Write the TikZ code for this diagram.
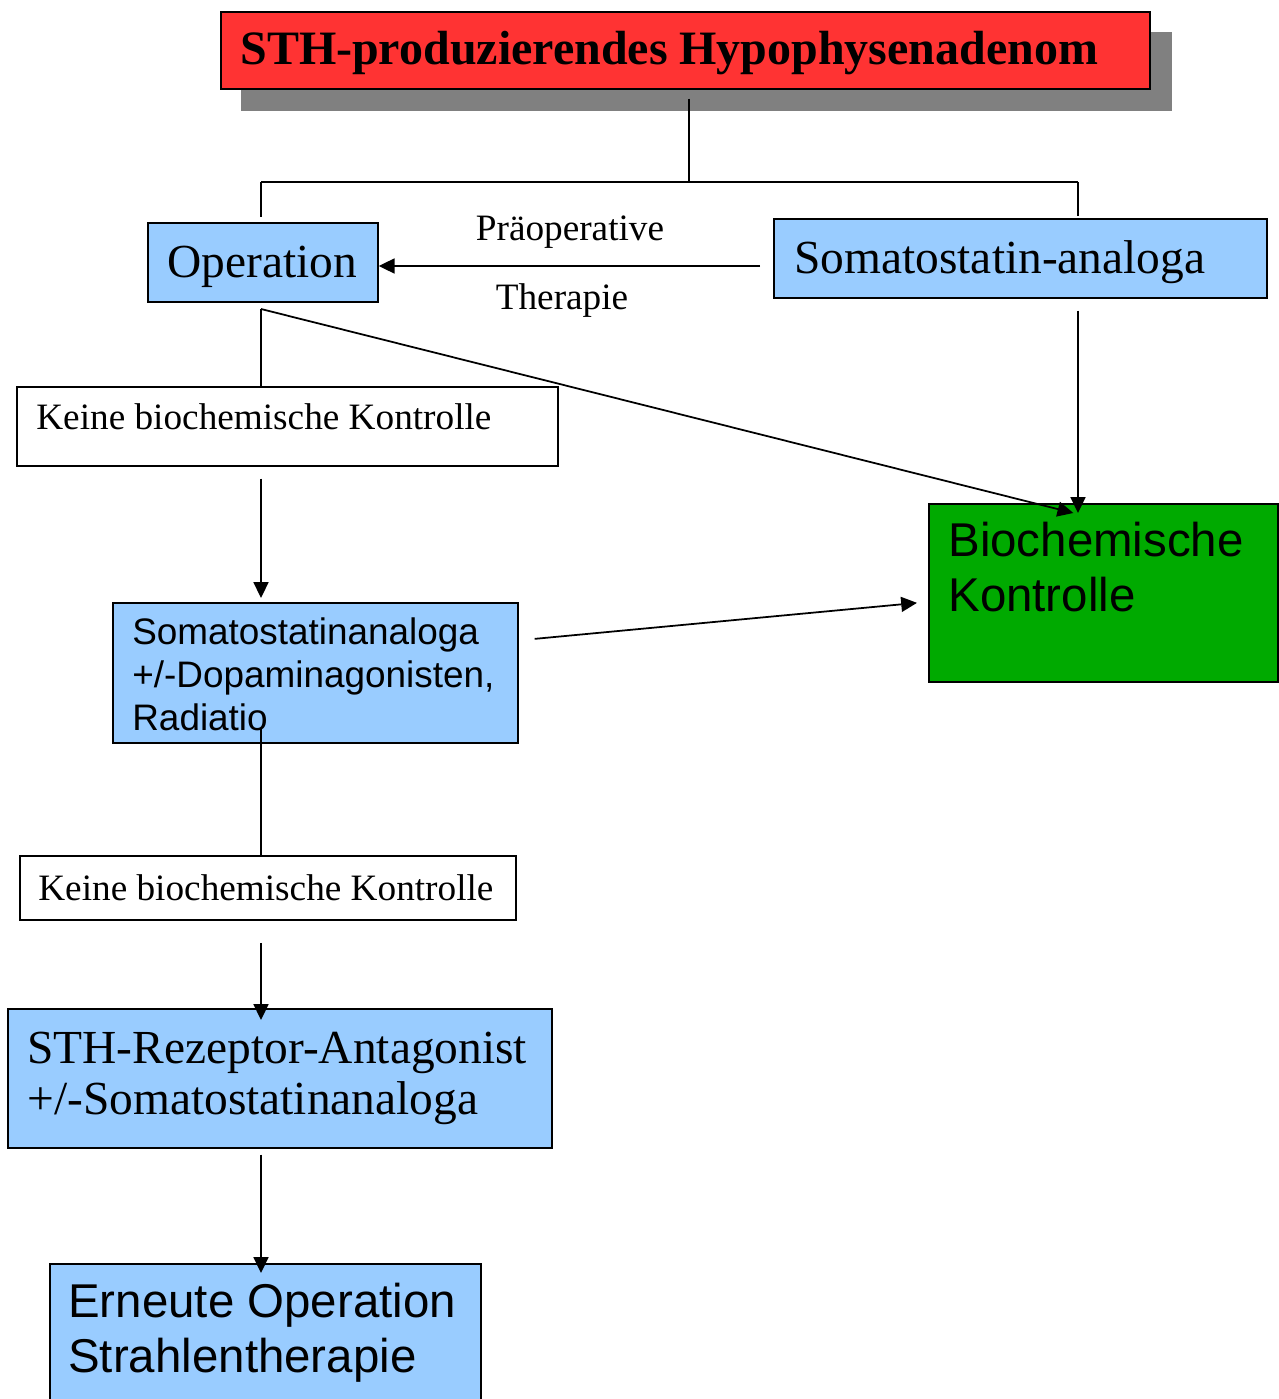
\documentclass[tikz,border=0pt]{standalone}
\usepackage{fontspec}
\setmainfont{Liberation Serif}
\setsansfont{Liberation Sans}
\definecolor{adenred}{RGB}{255,51,51}
\definecolor{shadowgray}{RGB}{128,128,128}
\definecolor{boxblue}{RGB}{153,204,255}
\definecolor{kontrgreen}{RGB}{0,170,0}
\usetikzlibrary{arrows.meta,calc}
\newcommand{\fTitle}{\fontsize{27.3}{30}\selectfont\bfseries}
\newcommand{\fSerifL}{\fontsize{27}{29}\selectfont}
\newcommand{\fSerifS}{\fontsize{21.2}{24}\selectfont}
\newcommand{\fSansS}{\sffamily\fontsize{21}{24.2}\selectfont}
\newcommand{\fSansL}{\sffamily\fontsize{27}{31.3}\selectfont}
\tikzstyle{line} = [draw, line width=1pt, -{Triangle[length=9pt,width=8.5pt]}]
\tikzstyle{link} = [draw, line width=1pt]
\tikzset{
  box/.style={draw, line width=1pt, anchor=north west, inner sep=0pt},
  bluebox/.style={box, fill=boxblue},
  txt/.style={anchor=base west, inner sep=0pt, align=left}
}

\begin{document}
\begin{tikzpicture}[x=0.02cm, y=-0.02cm]
  \useasboundingbox (0,0) rectangle (1278,1399);
  % boxes
  \fill[shadowgray] (241,32) rectangle (1172,111);
  \node[box, fill=adenred, minimum width=18.58cm, minimum height=1.54cm] (top) at (220,11) {};
  \node[bluebox, minimum width=4.6cm, minimum height=1.58cm] (op) at (147,222) {};
  \node[bluebox, minimum width=9.86cm, minimum height=1.58cm] (sa) at (773,218) {};
  \node[box, fill=white, minimum width=10.82cm, minimum height=1.58cm] (k1) at (16,386) {};
  \node[bluebox, minimum width=8.1cm, minimum height=2.8cm] (saa) at (112,602) {};
  \node[box, fill=kontrgreen, minimum width=6.98cm, minimum height=3.56cm] (bio) at (928,503) {};
  \node[box, fill=white, minimum width=9.92cm, minimum height=1.28cm] (k2) at (19,855) {};
  \node[bluebox, minimum width=10.88cm, minimum height=2.78cm] (sth) at (7,1008) {};
  \node[bluebox, minimum width=8.62cm, minimum height=3.3cm] (ern) at (49,1263) {};
  % texts (multi-line ones sit on their last baseline)
  \node[txt, font=\fTitle] (toptext) at (240,65) {STH-produzierendes Hypophysenadenom};
  \node[txt, font=\fSerifL] (optext) at (167,277) {Operation};
  \node[txt, font=\fSerifL] (satext) at (794,273) {Somatostatin-analoga};
  \node[txt, font=\fSerifS] (k1text) at (36,429) {Keine biochemische Kontrolle};
  \node[txt, font=\fSansS] (saatext) at (132,730) {Somatostatinanaloga\\+/-Dopaminagonisten,\\Radiatio};
  \node[txt, font=\fSansL] (biotext) at (948,611) {Biochemische\\Kontrolle};
  \node[txt, font=\fSerifS] (k2text) at (38,900) {Keine biochemische Kontrolle};
  \node[txt, font=\fSerifL] (sthtext) at (27,1114) {STH-Rezeptor-Antagonist\\+/-Somatostatinanaloga};
  \node[txt, font=\fSansL] (erntext) at (68,1372) {Erneute Operation\\Strahlentherapie};
  \node[anchor=base, inner sep=0pt, font=\fSerifS] (praeop) at (570,240) {Präoperative};
  \node[anchor=base, inner sep=0pt, font=\fSerifS] (ther) at (562,309) {Therapie};
  % connectors
  \coordinate (fork) at (689,182);
  \coordinate (forkL) at (261,182);
  \coordinate (forkR) at (1078,182);
  \coordinate (col) at (261,0);
  \coordinate (pre) at (760,266);
  \coordinate (opout) at (261,309);
  \draw[link, shorten <=5pt] (fork |- top.south) -- (fork);
  \draw[link] (forkL) -- (forkR);
  \draw[link, shorten >=3pt] (forkL) -- (forkL |- op.north);
  \draw[link, shorten >=1pt] (forkR) -- (forkR |- sa.north);
  \draw[line] (pre) -- (pre -| op.east);
  \draw[link] (opout) -- (opout |- k1.north);
  \draw[line] (opout) -- ($(bio.north)+(-30,10)$);
  \draw[line] ($(forkR |- sa.south)+(0,12)$) -- ($(forkR |- bio.north)+(0,10)$);
  \draw[line] ($(col |- k1.south)+(0,12)$) -- ($(col |- saa.north)+(0,-4)$);
  \draw[line] ($(saa.east)+(16,-34)$) -- ($(bio.west)+(-11,10)$);
  \draw[link] ($(col |- saa.south)+(0,-15)$) -- (col |- k2.north);
  \draw[line] ($(col |- k2.south)+(0,22)$) -- ($(col |- sth.north)+(0,12)$);
  \draw[line] ($(col |- sth.south)+(0,6)$) -- ($(col |- ern.north)+(0,10)$);
\end{tikzpicture}
\end{document}
